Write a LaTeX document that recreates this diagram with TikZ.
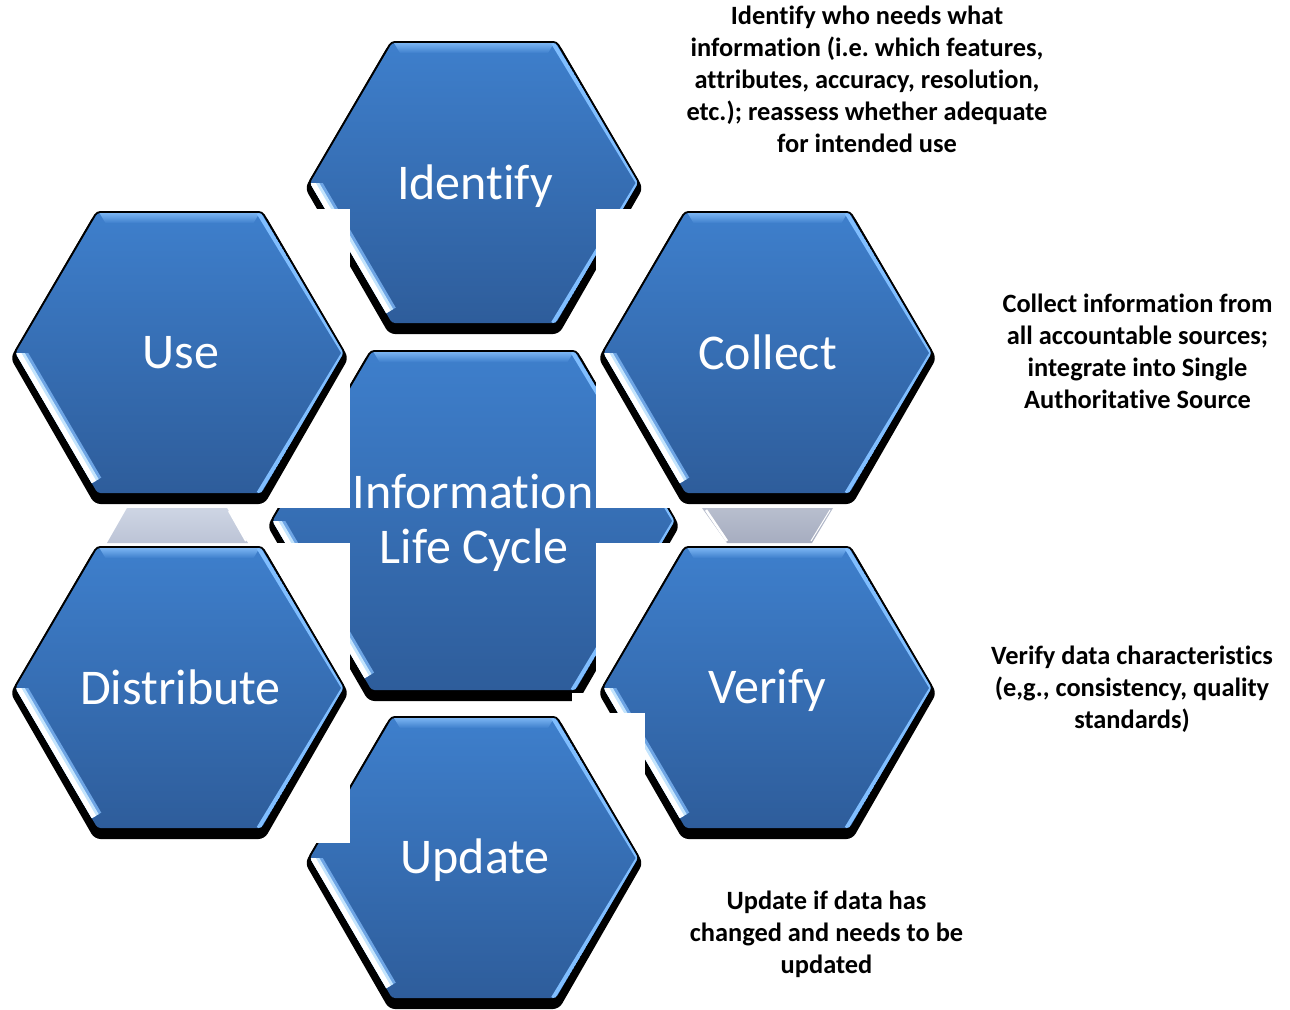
\documentclass[tikz,border=0pt]{standalone}
\usepackage{fontspec}
\setmainfont{Carlito}[Ligatures=NoCommon]
\frenchspacing
\definecolor{hexTop}{RGB}{62,127,204}
\definecolor{hexMid}{RGB}{57,114,186}
\definecolor{hexBot}{RGB}{46,93,155}
\definecolor{bevTop}{RGB}{122,180,242}
\definecolor{rimBlue}{RGB}{128,190,255}
\definecolor{hlA}{RGB}{110,165,228}
\definecolor{hlB}{RGB}{195,228,253}
\definecolor{trapLa}{RGB}{206,213,228}
\definecolor{trapLb}{RGB}{188,196,214}
\definecolor{trapRa}{RGB}{184,190,206}
\definecolor{trapRb}{RGB}{166,173,192}
\tikzset{
  hexlabel/.style={text=white, font=\fontsize{50}{60}\selectfont, inner sep=0pt, anchor=base},
  desc/.style={text=black, font=\bfseries\fontsize{26.4}{32}\selectfont, inner sep=0pt, anchor=base},
  whitebox/.style={fill=white, draw=none}
}
% #1 cx, #2 cy, #3 half width, #4 half height, #5 half top edge
\newcommand\hexcell[5]{%
 \begin{scope}[shift={(#1,#2)}]
  \fill[black, rounded corners=6pt] (-#3-5,5) -- (-#5-3,-#4+1) -- (#5+3,-#4+1) -- (#3+5,5) -- (#5+3,#4+11) -- (-#5-3,#4+11) -- cycle;
  \draw[black, line width=4pt, rounded corners=3pt] (-#3,0) -- (-#5,-#4) -- (#5,-#4) -- (#3,0) -- (#5,#4) -- (-#5,#4) -- cycle;
  \shade[top color=hexTop, middle color=hexMid, bottom color=hexBot, rounded corners=3pt] (-#3,0) -- (-#5,-#4) -- (#5,-#4) -- (#3,0) -- (#5,#4) -- (-#5,#4) -- cycle;
  \begin{scope}
   \clip[rounded corners=3pt] (-#3,0) -- (-#5,-#4) -- (#5,-#4) -- (#3,0) -- (#5,#4) -- (-#5,#4) -- cycle;
   \shade[top color=bevTop, bottom color=hexTop] (-#5+2,-#4) -- (#5-2,-#4) -- (#5-8,-#4+10) -- (-#5+8,-#4+10) -- cycle;
   \draw[rimBlue, line width=4pt] (#5-3,-#4) -- (#3,0) -- (#5-3,#4);
   \begin{scope}
    \clip (-#3-10,0) rectangle (0,#4);
    \draw[hlA, line width=22pt] (-#3,0) -- ({-#3+0.93*(#3-#5)},{0.93*#4});
    \draw[hlB, line width=16pt] (-#3,0) -- ({-#3+0.93*(#3-#5)},{0.93*#4});
    \draw[white, line width=10pt] (-#3,0) -- ({-#3+0.93*(#3-#5)},{0.93*#4});
   \end{scope}
  \end{scope}
 \end{scope}}
\begin{document}
\begin{tikzpicture}[x=1pt, y=-1pt]
\useasboundingbox (0,0) rectangle (1290,1009);
\fill[white] (0,0) rectangle (1290,1009);

% gray connector pieces
\shade[top color=trapLa, bottom color=trapLb] (127,508) -- (227,508) -- (248,543) -- (107,543) -- cycle;
\draw[white, line width=2pt] (229,511) -- (246,541);
\shade[top color=trapRa, bottom color=trapRb] (702,508) -- (833,508) -- (812,543) -- (727,543) -- cycle;
\draw[white, line width=2.5pt] (706,510) -- (727,541);
\draw[white, line width=1pt] (830,510) -- (811,541);

% Identify and centre
\hexcell{474}{183}{164}{140}{82}
\hexcell{473.5}{521}{201}{169}{102}

\fill[whitebox] (596,543) rectangle (690,713);
\fill[whitebox] (572,693) rectangle (600,713);

\hexcell{767.5}{688}{164}{140}{82}
\fill[whitebox] (560,713) rectangle (645,777);
\hexcell{474}{858}{164}{140}{82}

\fill[whitebox] (255,209) rectangle (350,508);
\fill[whitebox] (596,209) rectangle (690,508);
\fill[whitebox] (255,543) rectangle (350,843);

\hexcell{179.5}{353}{164}{140}{82}
\hexcell{767.5}{353}{164}{140}{82}
\hexcell{179.5}{688}{164}{140}{82}

% labels
\node[hexlabel] (lIdentify) at (475,199.5) {Identify};
\node[hexlabel] (lUse) at (181,368.5) {Use};
\node[hexlabel] (lCollect) at (767.5,369) {Collect};
\node[hexlabel] (lDistribute) at (180.5,704) {Distribute};
\node[hexlabel] (lVerify) at (767.5,703) {Verify};
\node[hexlabel] (lUpdate) at (475,873) {Update};
\node[hexlabel] (lInfoA) at (473,508) {Information};
\node[hexlabel] (lInfoB) at (474,563) {Life Cycle};

% descriptions
\node[desc] (dIa) at (867,24.5) {Identify who needs what};
\node[desc] (dIb) at (867,56.5) {information (i.e. which features,};
\node[desc] (dIc) at (867,88.5) {attributes, accuracy, resolution,};
\node[desc] (dId) at (867,120.5) {etc.); reassess whether adequate};
\node[desc] (dIe) at (867,152.5) {for intended use};

\node[desc] (dCa) at (1137.5,312.5) {Collect information from};
\node[desc] (dCb) at (1137.5,344.5) {all accountable sources;};
\node[desc] (dCc) at (1137.5,376.5) {integrate into Single};
\node[desc] (dCd) at (1137.5,408.5) {Authoritative Source};

\node[desc] (dVa) at (1132,664.5) {Verify data characteristics};
\node[desc] (dVb) at (1132,696.5) {(e,g., consistency, quality};
\node[desc] (dVc) at (1132,728.5) {standards)};

\node[desc] (dUa) at (826.5,909.5) {Update if data has};
\node[desc] (dUb) at (826.5,941.5) {changed and needs to be};
\node[desc] (dUc) at (826.5,973.5) {updated};
\end{tikzpicture}
\end{document}
